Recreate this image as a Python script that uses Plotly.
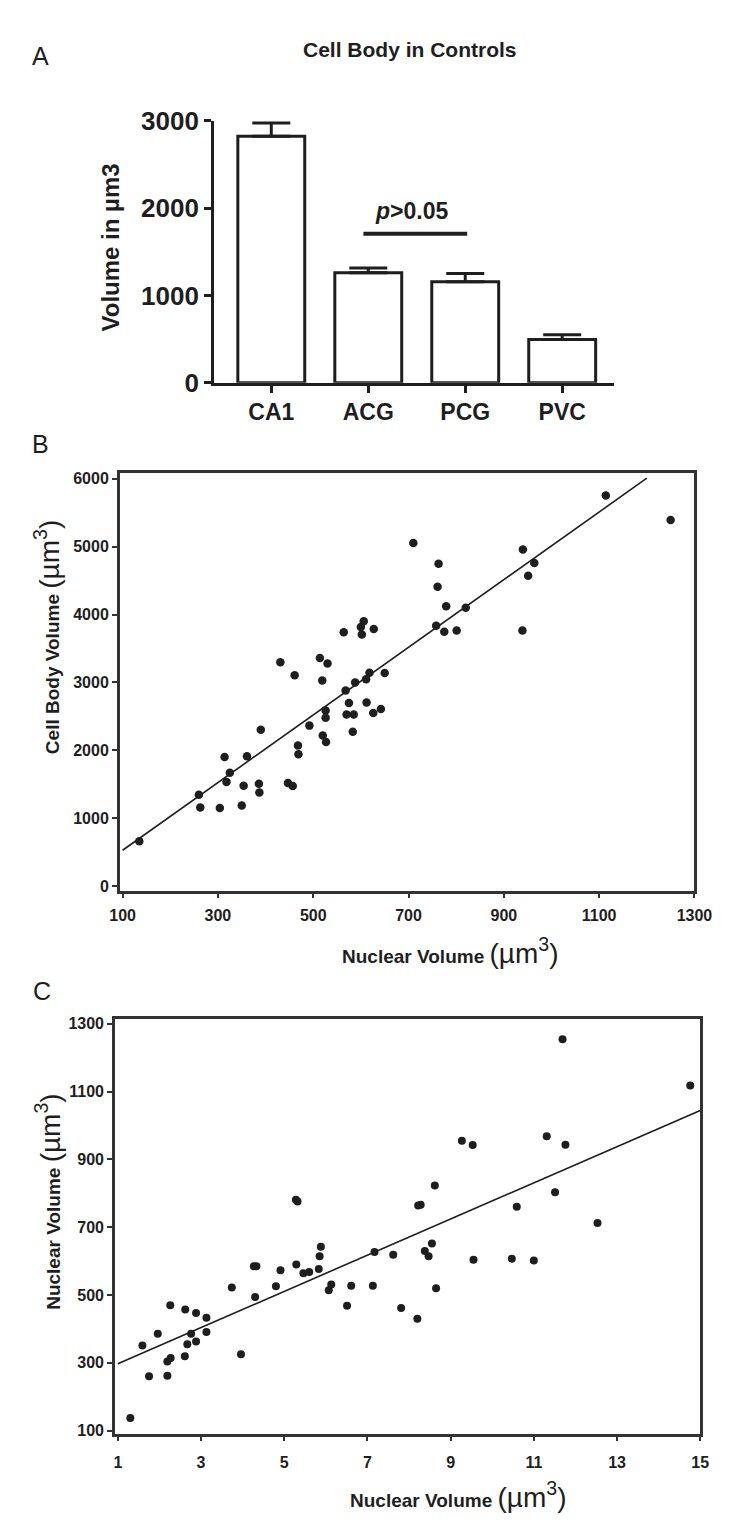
import numpy as np
import plotly.graph_objects as go

W, H = 750, 1533

# ---------------- Panel A data ----------------
regions = ["CA1", "ACG", "PCG", "PVC"]
cell_volume = [2825, 1261, 1157, 496]
cell_volume_sem = [150, 52, 93, 53]
a_yticks = [0, 1000, 2000, 3000]
sig_span = [0.95, 2.02]
sig_level = 1708
sig_label_pos = [1.45, 1966]

# ---------------- Panel B data ----------------
b_nuclear = [135, 260, 263, 304, 314, 318, 325, 350, 354, 361, 386, 387, 390, 431,
             447, 457, 461, 468, 469, 492, 514, 519, 520, 526, 526, 527, 530, 564,
             568, 570, 575, 583, 585, 588, 600, 602, 606, 611, 612, 618, 626, 627,
             642, 650, 710, 758, 761, 763, 775, 779, 801, 820, 939, 940, 951, 964,
             1114, 1250]
b_cellbody = [661, 1345, 1157, 1152, 1902, 1532, 1671, 1186, 1479, 1912, 1508, 1378,
              2302, 3297, 1518, 1475, 3105, 2071, 1941, 2364, 3359, 3028, 2219, 2586,
              2479, 2124, 3278, 3740, 2883, 2528, 2696, 2273, 2528, 2999, 3817, 3706,
              3903, 3048, 2706, 3143, 2551, 3788, 2609, 3139, 5053, 3836, 4408, 4750,
              3745, 4124, 3764, 4101, 3764, 4957, 4572, 4759, 5755, 5394]
b_fit_range = [100, 1200]
b_xticks = [100, 300, 500, 700, 900, 1100, 1300]
b_yticks = [0, 1000, 2000, 3000, 4000, 5000, 6000]

# ---------------- Panel C data ----------------
c_x = [1.30, 1.59, 1.75, 1.96, 2.19, 2.19, 2.27, 2.26, 2.61, 2.62, 2.67, 2.76, 2.88,
       2.88, 3.13, 3.13, 3.74, 3.96, 4.27, 4.33, 4.30, 4.80, 4.91, 5.28, 5.32, 5.29,
       5.46, 5.60, 5.83, 5.85, 5.88, 6.07, 6.13, 6.51, 6.61, 7.13, 7.17, 7.62, 7.81,
       8.20, 8.22, 8.28, 8.38, 8.47, 8.55, 8.62, 8.65, 9.27, 9.53, 9.55, 10.47, 10.59,
       11.00, 11.31, 11.51, 11.69, 11.76, 12.53, 14.76]
c_y = [137, 351, 260, 386, 262, 304, 314, 470, 319, 457, 355, 386, 447, 363, 433, 391,
       522, 325, 585, 585, 494, 526, 573, 781, 776, 590, 564, 568, 577, 614, 642, 514,
       531, 468, 527, 527, 627, 619, 462, 430, 764, 766, 630, 614, 652, 823, 520, 955,
       942, 604, 607, 760, 602, 968, 803, 1254, 943, 712, 1118]
c_fit_range = [1, 15]
c_xticks = [1, 3, 5, 7, 9, 11, 13, 15]
c_yticks = [100, 300, 500, 700, 900, 1100, 1300]

INK = "#1e1e1e"
FONT = "Liberation Sans, Arial, sans-serif"


def xdom(left, right):
    return [left / W, right / W]


def ydom(top, bottom):
    return [1 - bottom / H, 1 - top / H]


fig = go.Figure()

# Panel A bars
fig.add_trace(go.Bar(
    x=regions, y=cell_volume, width=0.69,
    marker=dict(color="white", line=dict(color=INK, width=3)),
    error_y=dict(type="data", symmetric=False, array=cell_volume_sem,
                 arrayminus=[0] * len(cell_volume_sem), thickness=3, width=19, color=INK),
    xaxis="x", yaxis="y", showlegend=False))

# Panel B scatter + fit
bx = np.array(b_nuclear, float)
by = np.array(b_cellbody, float)
bs, bi = np.polyfit(bx, by, 1)
bfx = np.array(b_fit_range, float)
fig.add_trace(go.Scatter(x=bfx, y=bs * bfx + bi, mode="lines",
                         line=dict(color=INK, width=1.6), xaxis="x2", yaxis="y2",
                         showlegend=False))
fig.add_trace(go.Scatter(x=b_nuclear, y=b_cellbody, mode="markers",
                         marker=dict(color=INK, size=8.5), xaxis="x2", yaxis="y2",
                         showlegend=False))

# Panel C scatter + fit
cx = np.array(c_x, float)
cy = np.array(c_y, float)
cs, ci = np.polyfit(cx, cy, 1)
cfx = np.array(c_fit_range, float)
fig.add_trace(go.Scatter(x=cfx, y=cs * cfx + ci, mode="lines",
                         line=dict(color=INK, width=1.6), xaxis="x3", yaxis="y3",
                         showlegend=False))
fig.add_trace(go.Scatter(x=c_x, y=c_y, mode="markers",
                         marker=dict(color=INK, size=8), xaxis="x3", yaxis="y3",
                         showlegend=False))

tickfont_a = dict(family=FONT, size=26, color=INK, weight="bold")
tickfont_bc = dict(family=FONT, size=16, color=INK, weight="bold")

common_a = dict(showline=True, linewidth=3, linecolor=INK, ticks="outside", ticklen=7,
                tickwidth=3, tickcolor=INK, showgrid=False, zeroline=False,
                fixedrange=True)
common_bc = dict(showline=True, linewidth=2.5, linecolor="#333", mirror=True,
                 ticks="outside", ticklen=5, tickwidth=2, tickcolor="#333",
                 showgrid=False, zeroline=False, fixedrange=True)

fig.update_layout(
    width=W, height=H, margin=dict(l=0, r=0, t=0, b=0),
    paper_bgcolor="white", plot_bgcolor="white",
    bargap=0.3,
    xaxis=dict(domain=xdom(212, 627), range=[-0.59, 3.53], type="category",
               tickfont=dict(family=FONT, size=23, color=INK, weight="bold"),
               anchor="y", **common_a),
    yaxis=dict(domain=ydom(108, 375), range=[0, 3000], tickvals=a_yticks,
               tickfont=tickfont_a, anchor="x", **common_a),
    xaxis2=dict(domain=xdom(114, 711), range=[94, 1300], tickvals=b_xticks,
                tickfont=tickfont_bc, anchor="y2", ticklabelstandoff=4, **common_bc),
    yaxis2=dict(domain=ydom(467, 893), range=[-65, 6087], tickvals=b_yticks,
                tickfont=tickfont_bc, anchor="x2", **common_bc),
    xaxis3=dict(domain=xdom(109, 717), range=[0.93, 15], tickvals=c_xticks,
                tickfont=tickfont_bc, anchor="y3", ticklabelstandoff=7, **common_bc),
    yaxis3=dict(domain=ydom(1024, 1447), range=[91, 1314], tickvals=c_yticks,
                tickfont=tickfont_bc, anchor="x3", **common_bc),
)

# significance bracket
fig.add_shape(type="line", xref="x", yref="y", x0=sig_span[0], x1=sig_span[1],
              y0=sig_level, y1=sig_level, line=dict(color=INK, width=4))
fig.add_annotation(xref="x", yref="y", x=sig_label_pos[0], y=sig_label_pos[1],
                   text="<i>p</i>>0.05", showarrow=False,
                   font=dict(family=FONT, size=23, color=INK, weight="bold"))


def ann(px, py, text, size, angle=0, weight="normal"):
    fig.add_annotation(xref="paper", yref="paper", x=px / W, y=1 - py / H,
                       xanchor="center", yanchor="middle", text=text, showarrow=False,
                       textangle=angle,
                       font=dict(family=FONT, size=size, color=INK, weight=weight))


ann(32, 42, "A", 25)
ann(32, 438, "B", 25)
ann(33, 995, "C", 25)
ann(415, 35, "Cell Body in Controls", 21, weight="bold")
ann(104, 237, "Volume in µm3", 24, angle=-90, weight="bold")

unit = " <span style='font-size:28px;font-weight:normal'>(µm<sup>3</sup>)</span>"
ann(38, 635, "Cell Body Volume" + unit, 19, angle=-90, weight="bold")
ann(458, 955, "Nuclear Volume" + unit, 19, weight="bold")
ann(40, 1210, "Nuclear Volume" + unit, 19, angle=-90, weight="bold")
ann(466, 1510, "Nuclear Volume" + unit, 19, weight="bold")

fig.write_html("out.html", config={"displayModeBar": False},
               post_script="document.body.style.margin='0';"
                           "document.body.style.overflow='hidden';")
